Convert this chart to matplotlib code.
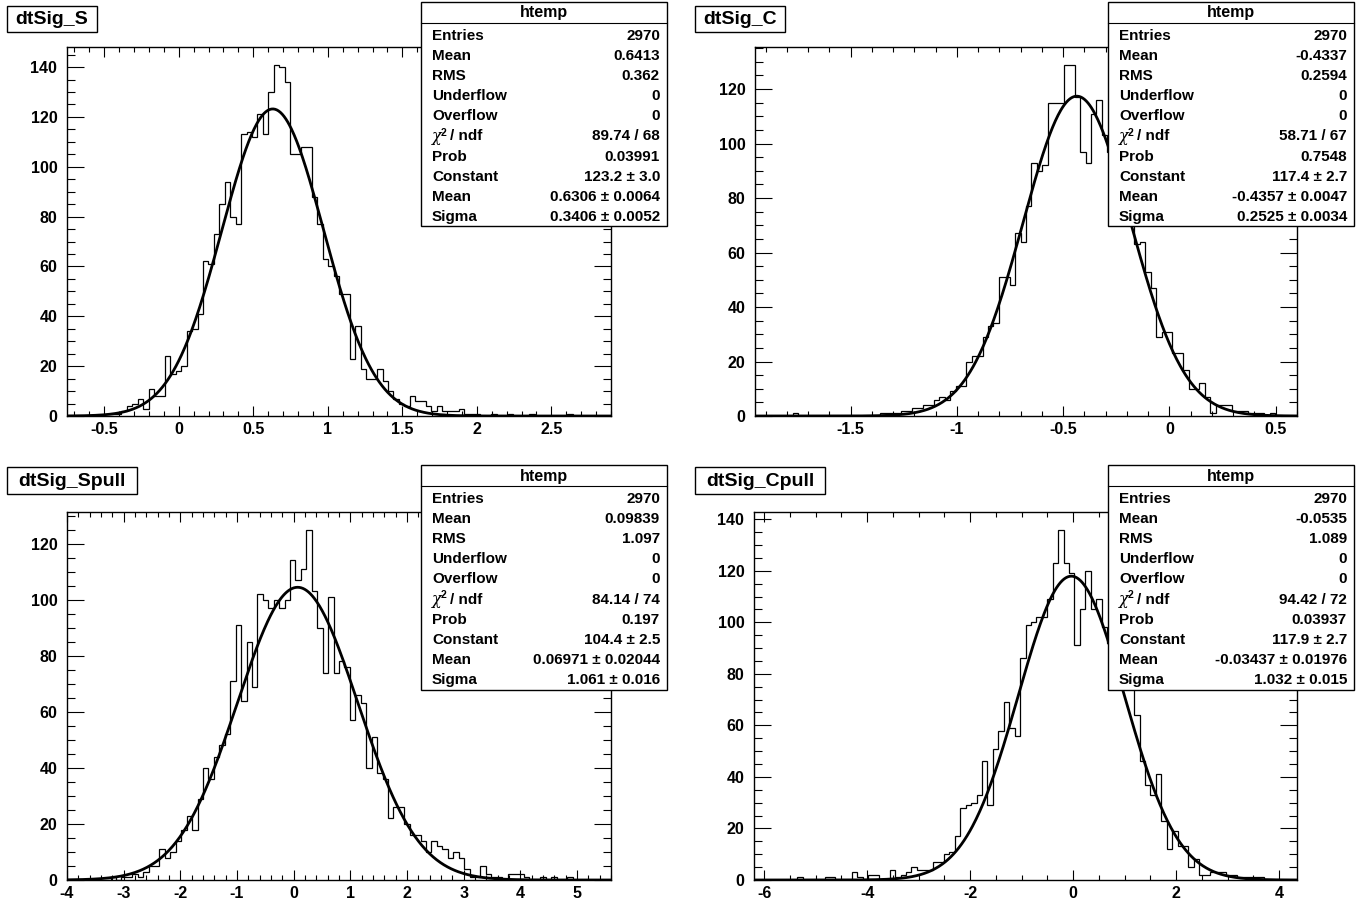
import numpy as np
import matplotlib
matplotlib.use("Agg")
import matplotlib.pyplot as plt
from matplotlib.patches import Rectangle
from matplotlib.ticker import MultipleLocator, FuncFormatter

plt.rcParams["font.family"] = ["Liberation Sans", "DejaVu Sans"]
plt.rcParams["font.weight"] = "bold"

# ---- data (100 bins each) ----
S_RANGE = (-0.75, 2.9)
S_COUNTS = (
    [0] * 7
    + [1, 1, 1, 2, 4, 5, 7, 3, 11, 8, 8, 24, 17, 18, 20, 34, 35, 41,
       62, 61, 73, 85, 94, 80, 77, 113, 114, 112, 121]
    + [113, 130, 141, 140, 134, 105, 105, 108, 108, 88, 77, 63, 60, 56,
       49, 49, 23, 36, 19, 15, 15, 19, 14, 10, 7]
    + [5, 4, 8, 6, 6, 4, 2, 4, 2, 2, 2, 3, 1, 1, 1, 0, 0, 1, 0, 0, 1, 0,
       0, 0, 1, 0, 0, 0, 0, 0, 0, 1, 0, 0, 0, 0, 0, 0, 0]
)
S_FIT = (123.2, 0.6306, 0.3406)
S_STATS = ["2970", "0.6413", "0.362", "0", "0", "89.74 / 68", "0.03991",
           "123.2 \u00b1 3.0", "0.6306 \u00b1 0.0064", "0.3406 \u00b1 0.0052"]

C_RANGE = (-1.95, 0.6)
C_COUNTS = (
    [0] * 7 + [1] + [0] * 15
    + [1, 1, 1, 1, 2, 2, 3, 3, 4, 4, 6, 7, 6, 9, 11, 11, 20, 22, 22, 29,
       33, 34, 51, 51, 48, 67, 64, 77, 93, 90, 92, 115, 115, 115, 129,
       129, 117, 97, 93, 111, 116, 103, 97, 91, 84, 77, 72, 63, 64, 53,
       47, 29, 31, 31, 23, 23, 17, 10, 10, 12, 7, 1, 4, 4, 4, 2, 2, 2,
       1, 1, 1, 0, 1, 0, 0, 0, 0]
)
C_FIT = (117.4, -0.4357, 0.2525)
C_STATS = ["2970", "-0.4337", "0.2594", "0", "0", "58.71 / 67", "0.7548",
           "117.4 \u00b1 2.7", "-0.4357 \u00b1 0.0047", "0.2525 \u00b1 0.0034"]

SP_RANGE = (-4.0, 5.6)
SP_COUNTS = (
    [0] * 8 + [1, 0]
    + [1, 1, 2, 1, 3, 5, 5, 11, 8, 10, 14, 18, 23, 18, 29, 40, 36, 44,
       48, 52, 71, 91, 64, 85, 69, 102, 100, 97, 100, 97, 100, 114, 107,
       111, 125, 103, 90, 74, 101, 74, 78, 76, 57, 66, 63, 40, 51, 38,
       36, 22, 26, 26, 20, 16, 16, 14, 10, 14, 12, 11, 8, 10, 8, 4, 1,
       1, 5, 2, 1, 1, 0, 2, 2, 2, 1, 0, 0, 1, 0, 1, 0, 0, 1]
    + [0] * 7
)
SP_FIT = (104.4, 0.06971, 1.061)
SP_STATS = ["2970", "0.09839", "1.097", "0", "0", "84.14 / 74", "0.197",
            "104.4 \u00b1 2.5", "0.06971 \u00b1 0.02044", "1.061 \u00b1 0.016"]

CP_RANGE = (-6.2, 4.35)
CP_COUNTS = (
    [0] * 8 + [1, 0, 0, 0, 0, 1, 1, 0, 0, 0, 3, 1, 0, 2, 2, 0, 0]
    + [4, 1, 2, 3, 5, 4, 4, 4, 7, 7, 10, 11, 17, 28, 29, 30, 33, 46, 29,
       51, 58, 69, 59, 56, 86, 99, 100, 102, 102, 109, 123, 136, 123,
       119, 91, 105, 120, 105, 109, 98, 92, 86, 80, 76, 75, 64, 46, 37,
       33, 41, 23, 12, 19, 13, 13, 5, 8, 2, 2, 3, 3, 3, 2, 2, 1, 1, 1,
       1, 1]
    + [0] * 6
)
CP_FIT = (117.9, -0.03437, 1.032)
CP_STATS = ["2970", "-0.0535", "1.089", "0", "0", "94.42 / 72", "0.03937",
            "117.9 \u00b1 2.7", "-0.03437 \u00b1 0.01976", "1.032 \u00b1 0.015"]

STAT_LABELS = ["Entries", "Mean", "RMS", "Underflow", "Overflow",
               None, "Prob", "Constant", "Mean", "Sigma"]

W, H = 1366, 902
fig = plt.figure(figsize=(W / 100, H / 100), dpi=100)
fig.patch.set_facecolor("white")

ov = fig.add_axes([0, 0, 1, 1], zorder=10)
ov.set_xlim(0, W)
ov.set_ylim(H, 0)
ov.axis("off")
ov.patch.set_alpha(0)


def fmt(v, pos):
    return "%g" % round(v, 6)


def draw_panel(frame, rng, counts, fit, xmaj, xmin_, title, title_box,
               stats_box, stats):
    l, t, r, b = frame
    ax = fig.add_axes([l / W, 1 - b / H, (r - l) / W, (b - t) / H])
    counts = np.array(counts, dtype=float)
    edges = np.linspace(rng[0], rng[1], len(counts) + 1)
    ax.stairs(counts, edges, color="black", lw=0.9)

    const, mean, sigma = fit
    xs = np.linspace(rng[0], rng[1], 600)
    ax.plot(xs, const * np.exp(-0.5 * ((xs - mean) / sigma) ** 2),
            color="black", lw=2.0)

    ax.set_xlim(rng)
    ax.set_ylim(0, 1.05 * counts.max())
    ax.xaxis.set_major_locator(MultipleLocator(xmaj))
    ax.xaxis.set_minor_locator(MultipleLocator(xmin_))
    ax.yaxis.set_major_locator(MultipleLocator(20))
    ax.yaxis.set_minor_locator(MultipleLocator(5))
    ax.xaxis.set_major_formatter(FuncFormatter(fmt))
    ax.tick_params(axis="both", which="both", direction="in",
                   top=True, right=True, width=0.8, labelsize=11.5)
    ax.tick_params(axis="x", which="major", length=7, pad=4)
    ax.tick_params(axis="x", which="minor", length=3.5)
    ax.tick_params(axis="y", which="major", length=12, pad=7)
    ax.tick_params(axis="y", which="minor", length=6)
    for lab in ax.get_xticklabels() + ax.get_yticklabels():
        lab.set_fontweight("bold")
    for sp in ax.spines.values():
        sp.set_linewidth(1.0)

    # title box
    tl, tt, tr, tb = title_box
    ov.add_patch(Rectangle((tl, tt), tr - tl, tb - tt, facecolor="white",
                           edgecolor="black", lw=1.0))
    ov.text((tl + tr) / 2, (tt + tb) / 2 + 1, title, ha="center",
            va="center", fontsize=14, fontweight="bold")

    # stats box
    sl, st, sr, sb = stats_box
    ov.add_patch(Rectangle((sl, st), sr - sl, sb - st, facecolor="white",
                           edgecolor="black", lw=1.0))
    ov.plot([sl, sr], [st + 21, st + 21], color="black", lw=0.8)
    ov.text((sl + sr) / 2, st + 11, "htemp", ha="center", va="center",
            fontsize=11.5, fontweight="bold")
    for i, (lab, val) in enumerate(zip(STAT_LABELS, stats)):
        y = st + 34 + i * 20.1
        if lab is None:
            # chi-square label: symbol-style chi, bold rest
            ov.text(sl + 11, y, "\u03c7", ha="left", va="center",
                    fontsize=11.5, fontweight="normal", fontstyle="italic",
                    family=["DejaVu Serif"])
            ov.text(sl + 20, y - 4, "2", ha="left", va="center",
                    fontsize=7.5, fontweight="bold")
            ov.text(sl + 29, y, "/ ndf", ha="left", va="center",
                    fontsize=11, fontweight="bold")
        else:
            ov.text(sl + 11, y, lab, ha="left", va="center", fontsize=11,
                    fontweight="bold")
        ov.text(sr - 7, y, val, ha="right", va="center", fontsize=11,
                fontweight="bold")
    return ax


draw_panel((67, 47, 611, 416), S_RANGE, S_COUNTS, S_FIT, 0.5, 0.1,
           "dtSig_S", (7, 6, 97, 32), (421, 2, 667, 226), S_STATS)
draw_panel((755, 47, 1297, 416), C_RANGE, C_COUNTS, C_FIT, 0.5, 0.1,
           "dtSig_C", (695, 6, 785, 32), (1108, 2, 1354, 226), C_STATS)
draw_panel((67, 512, 611, 880), SP_RANGE, SP_COUNTS, SP_FIT, 1, 0.2,
           "dtSig_Spull", (7, 467, 137, 494), (421, 465, 667, 690),
           SP_STATS)
draw_panel((754, 512, 1297, 880), CP_RANGE, CP_COUNTS, CP_FIT, 2, 0.5,
           "dtSig_Cpull", (695, 467, 825, 494), (1108, 465, 1354, 690),
           CP_STATS)

fig.savefig("out.png", dpi=100, facecolor="white")
